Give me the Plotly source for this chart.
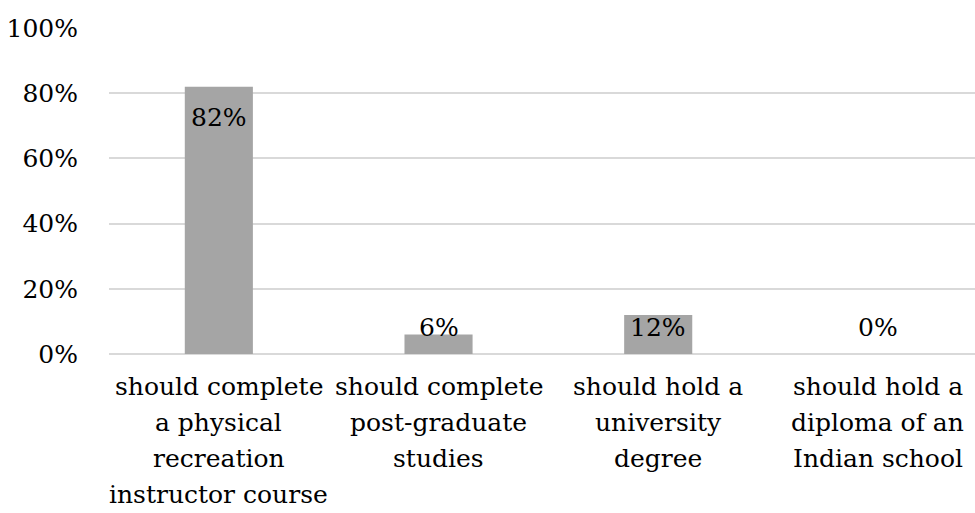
import plotly.graph_objects as go

categories = [
    "should complete<br>a physical<br>recreation<br>instructor course",
    "should complete<br>post-graduate<br>studies",
    "should hold a<br>university<br>degree",
    "should hold a<br>diploma of an<br>Indian school",
]
shares = [0.82, 0.06, 0.12, 0.00]
tick_values = [0, 0.2, 0.4, 0.6, 0.8, 1.0]
tick_labels = ["0%", "20%", "40%", "60%", "80%", "100%"]

FONT = "DejaVu Serif"
SIZE = 25
LINE_STEP = 36  # px between category label lines
BAR_COLOR = "#a5a5a5"
GRID_COLOR = "#d9d9d9"

fig = go.Figure()
fig.add_trace(go.Bar(
    x=list(range(len(categories))),
    y=shares,
    width=0.31,
    marker=dict(color=BAR_COLOR, line=dict(width=0)),
    hoverinfo="skip",
))

# value labels: inside the top of tall bars, just above the baseline for short ones
for i, v in enumerate(shares):
    label = f"{round(v * 100)}%"
    if v >= 0.2:
        fig.add_annotation(x=i, y=v, text=label, showarrow=False,
                           yanchor="top", yshift=-14,
                           font=dict(family=FONT, size=SIZE, color="black"))
    else:
        fig.add_annotation(x=i, y=0, text=label, showarrow=False,
                           yanchor="bottom", yshift=10,
                           font=dict(family=FONT, size=SIZE, color="black"))

# category labels, one annotation per line for a looser line spacing
for i, cat in enumerate(categories):
    for k, line in enumerate(cat.split("<br>")):
        fig.add_annotation(x=i, y=0, text=line, showarrow=False,
                           xanchor="center", yanchor="top",
                           yshift=-(16 + k * LINE_STEP),
                           font=dict(family=FONT, size=SIZE, color="black"))

fig.update_layout(
    width=975, height=513,
    margin=dict(l=109, r=0, t=27, b=159),
    paper_bgcolor="white", plot_bgcolor="white",
    showlegend=False,
    font=dict(family=FONT, size=SIZE, color="black"),
    xaxis=dict(
        range=[-0.5, 3.442],
        tickmode="array",
        tickvals=list(range(len(categories))),
        showticklabels=False,
        showgrid=False, zeroline=False, showline=False,
        ticks="",
    ),
    yaxis=dict(
        range=[0, 1.003],
        tickmode="array",
        tickvals=tick_values,
        ticktext=tick_labels,
        showgrid=True, gridcolor=GRID_COLOR, gridwidth=1.5,
        zeroline=True, zerolinecolor=GRID_COLOR, zerolinewidth=1.5,
        showline=False, ticks="", ticklabelstandoff=30,
        tickfont=dict(family=FONT, size=SIZE, color="black"),
    ),
)

fig.write_html("out.html")
